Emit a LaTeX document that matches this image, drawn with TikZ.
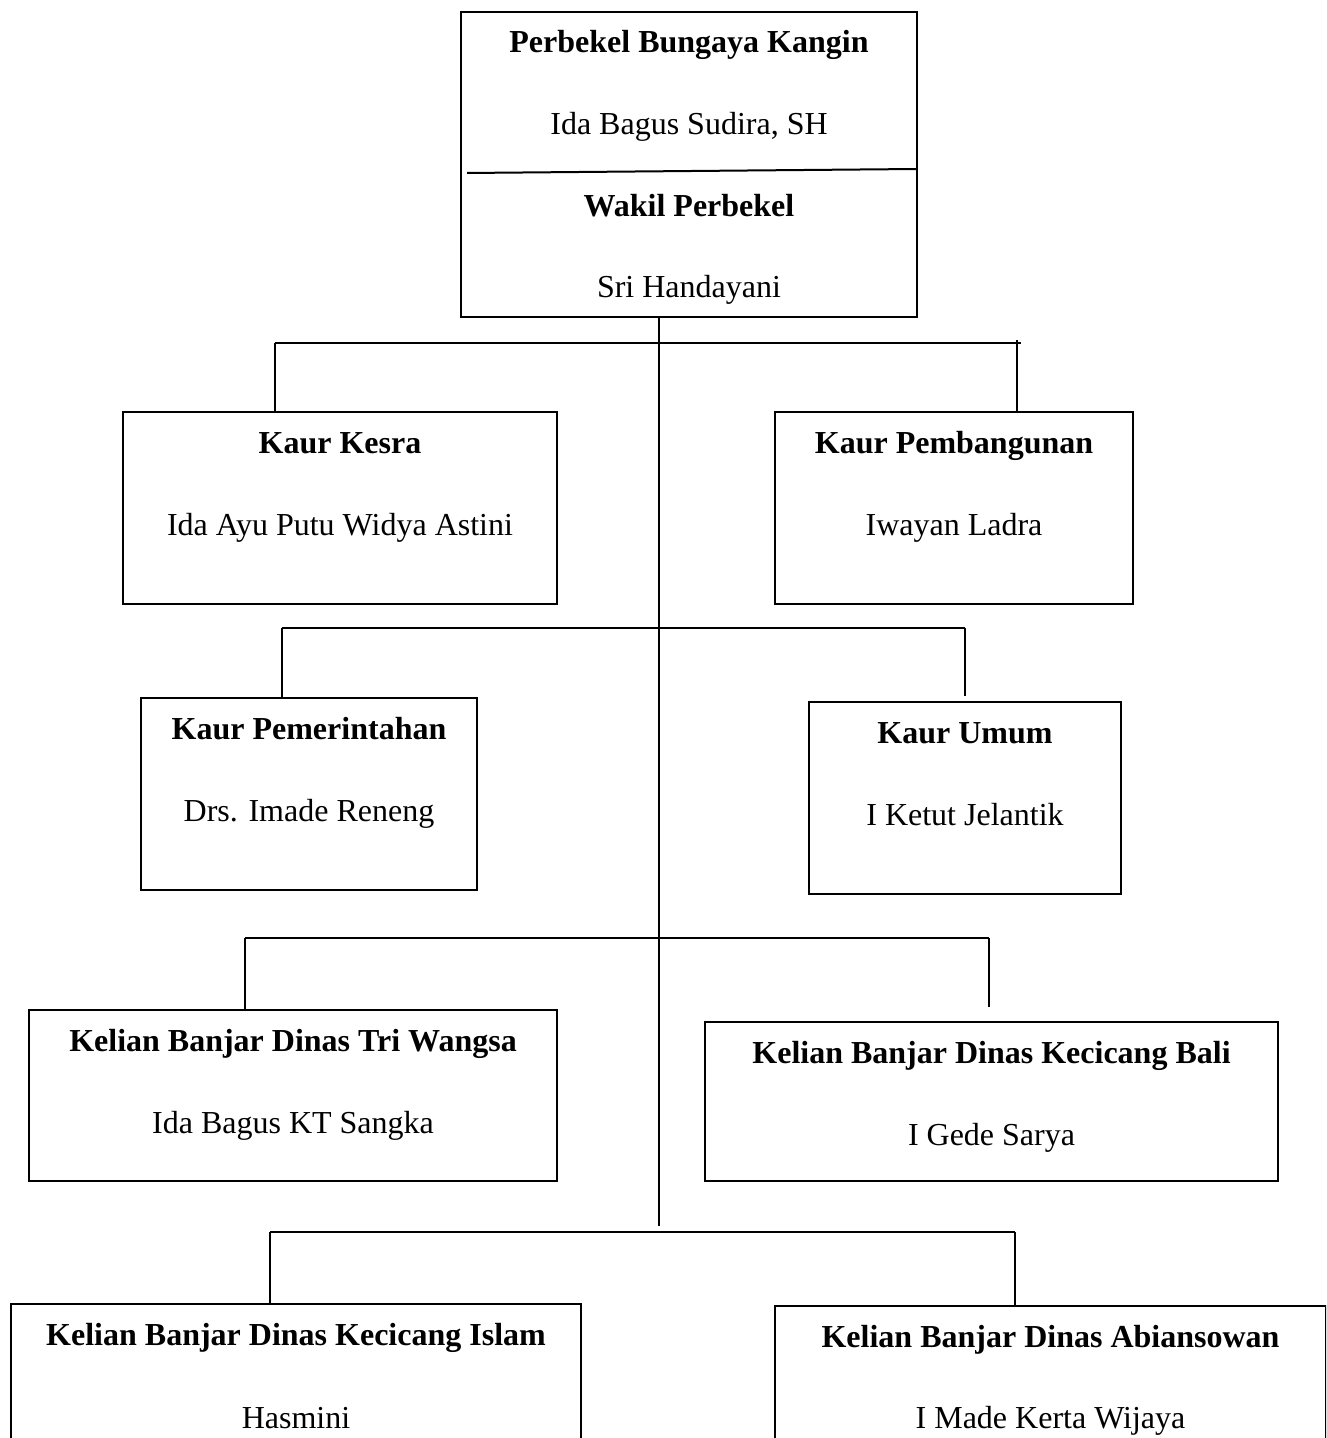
\documentclass[tikz,border=0pt]{standalone}
\usepackage{fontspec}
\setmainfont{Liberation Serif}
\usetikzlibrary{fit}
\tikzset{
  orgframe/.style={draw, line width=1pt, inner sep=0pt},
  ttl/.style={font=\fontsize{16}{19}\selectfont\bfseries, inner sep=0pt, anchor=base},
  nm/.style={font=\fontsize{16}{19}\selectfont, inner sep=0pt, anchor=base},
  link/.style={line width=1pt},
}
\newcommand\orgbox[9]{%
  \node[orgframe, fit={(#2,#3) (#4,#5)}] (#1) {};
  \node[ttl] (#1-t) at (#1.center |- 0,#7) {#6};
  \node[nm] (#1-n) at (#1.center |- 0,#9) {#8};
}
\begin{document}
\begin{tikzpicture}[x=0.5pt,y=-0.5pt]
\useasboundingbox (0,0) rectangle (1326,1438);
\clip (0,0) rectangle (1326,1438);

% top box
\node[orgframe, fit={(461,12) (917,317)}] (top) {};
\node[ttl] (top-t1) at (top.center |- 0,53) {Perbekel Bungaya Kangin};
\node[nm]  (top-n1) at (top.center |- 0,135) {Ida Bagus Sudira, SH};
\node[ttl] (top-t2) at (top.center |- 0,217) {Wakil Perbekel};
\node[nm]  (top-n2) at (top.center |- 0,298) {Sri Handayani};
\draw[link] (467,173) -- (917,169);

% boxes
\orgbox{kesra}{123}{412}{557}{604}{Kaur Kesra}{453}{Ida Ayu Putu Widya Astini}{535}
\orgbox{pemb}{775}{412}{1133}{604}{Kaur Pembangunan}{453}{Iwayan Ladra}{535}
\orgbox{pemer}{141}{698}{477}{890}{Kaur Pemerintahan}{739}{Drs. Imade Reneng}{821}
\orgbox{umum}{809}{702}{1121}{894}{Kaur Umum}{743}{I Ketut Jelantik}{825}
\orgbox{triw}{29}{1010}{557}{1181}{Kelian Banjar Dinas Tri Wangsa}{1051}{Ida Bagus KT Sangka}{1133}
\orgbox{kbali}{705}{1022}{1278}{1181}{Kelian Banjar Dinas Kecicang Bali}{1063}{I Gede Sarya}{1145}
\orgbox{islam}{11}{1304}{581}{1480}{Kelian Banjar Dinas Kecicang Islam}{1345}{Hasmini}{1428}
\orgbox{abian}{775}{1306}{1326}{1480}{Kelian Banjar Dinas Abiansowan}{1347}{I Made Kerta Wijaya}{1428}

% trunk
\coordinate (trunkend) at (659,1226);
\draw[link] (top.south -| trunkend) -- (trunkend);

% level 1
\coordinate (b1l) at (275,343);
\coordinate (b1r) at (1021,343);
\coordinate (b1d) at (1017,340);
\draw[link] (b1l) -- (b1r);
\draw[link] (b1l) -- (kesra.north -| b1l);
\draw[link] (b1d) -- (pemb.north -| b1d);

% level 2
\coordinate (b2l) at (282,628);
\coordinate (b2r) at (965,628);
\draw[link] (b2l) -- (b2r);
\draw[link] (b2l) -- (pemer.north -| b2l);
\draw[link, shorten >=2.5pt] (b2r) -- (umum.north -| b2r);

% level 3
\coordinate (b3l) at (245,938);
\coordinate (b3r) at (989,938);
\draw[link] (b3l) -- (b3r);
\draw[link] (b3l) -- (triw.north -| b3l);
\draw[link, shorten >=7pt] (b3r) -- (kbali.north -| b3r);

% level 4
\coordinate (b4l) at (270,1232);
\coordinate (b4r) at (1015,1232);
\draw[link] (b4l) -- (b4r);
\draw[link] (b4l) -- (islam.north -| b4l);
\draw[link] (b4r) -- (abian.north -| b4r);
\end{tikzpicture}
\end{document}
